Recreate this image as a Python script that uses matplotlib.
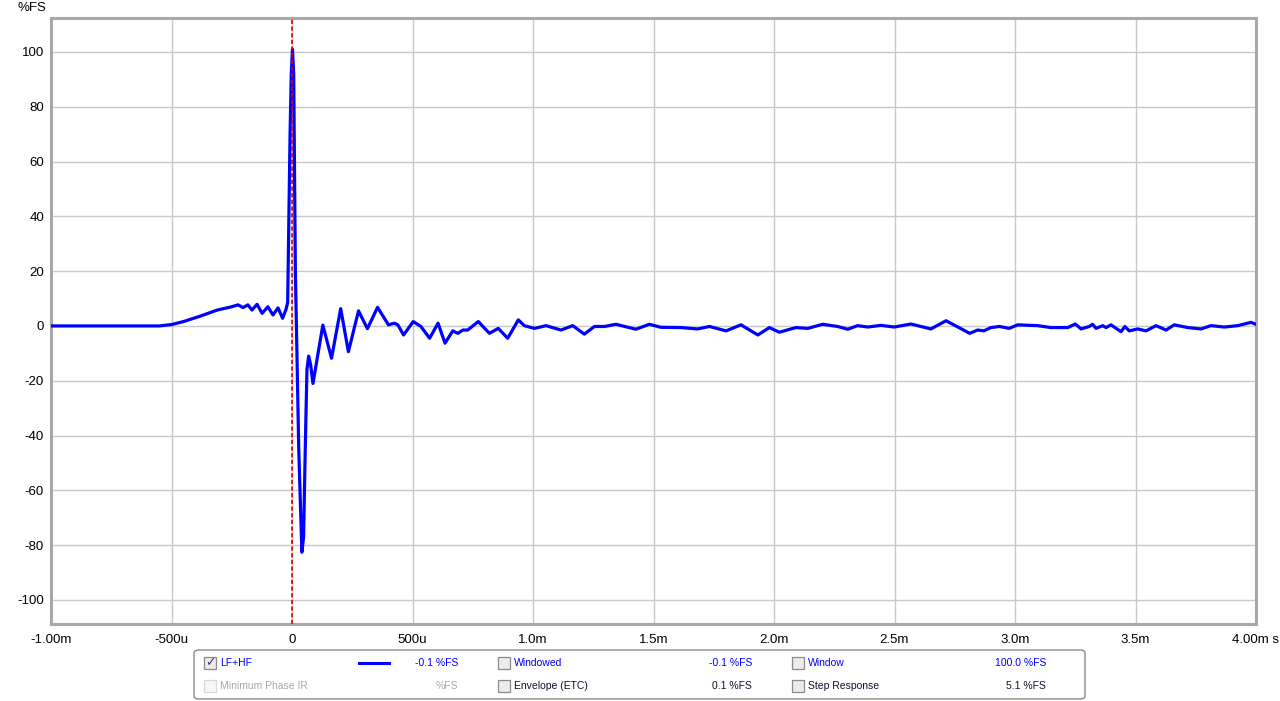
import matplotlib
matplotlib.use("Agg")
import matplotlib.pyplot as plt
from matplotlib.patches import FancyBboxPatch, Rectangle

plt.rcParams['font.family'] = ['Liberation Sans', 'DejaVu Sans']
plt.rcParams['axes.unicode_minus'] = False

# impulse response LF+HF, time in ms, level in %FS
t_ms = [-1.0, -0.75, -0.55, -0.50, -0.45, -0.38, -0.31, -0.25, -0.224, -0.203,
        -0.183, -0.166, -0.145, -0.124, -0.100, -0.079, -0.058, -0.039, -0.025,
        -0.018, -0.008, -0.003, 0.002, 0.007, 0.014, 0.028, 0.041, 0.048, 0.055,
        0.062, 0.069, 0.077, 0.087, 0.128, 0.164, 0.202, 0.234, 0.276, 0.313,
        0.355, 0.400, 0.425, 0.439, 0.463, 0.503, 0.535, 0.571, 0.606, 0.635,
        0.667, 0.688, 0.709, 0.729, 0.773, 0.819, 0.856, 0.895, 0.939, 0.964,
        1.006, 1.054, 1.116, 1.165, 1.213, 1.255, 1.297, 1.344, 1.427, 1.483,
        1.531, 1.614, 1.683, 1.732, 1.801, 1.863, 1.933, 1.981, 2.022, 2.091,
        2.140, 2.202, 2.264, 2.306, 2.347, 2.389, 2.444, 2.499, 2.568, 2.651,
        2.714, 2.812, 2.845, 2.871, 2.900, 2.935, 2.976, 3.011, 3.094, 3.149,
        3.219, 3.250, 3.274, 3.308, 3.322, 3.336, 3.364, 3.378, 3.398, 3.440,
        3.456, 3.474, 3.509, 3.544, 3.585, 3.627, 3.661, 3.717, 3.772, 3.813,
        3.869, 3.924, 3.979, 4.0]
level = [0.0, 0.0, 0.0, 0.5, 1.6, 3.6, 5.8, 7.0, 7.7, 6.7,
         7.7, 5.8, 7.9, 4.6, 7.0, 4.0, 6.6, 2.8, 6.0,
         8.5, 70.0, 92.0, 101.0, 92.0, 20.0, -45.0, -82.6, -77.0, -45.0,
         -16.0, -11.0, -14.0, -21.0, 0.3, -11.8, 6.3, -9.4, 5.5, -1.0,
         6.8, 0.4, 1.0, 0.4, -3.3, 1.6, -0.2, -4.5, 1.0, -6.3,
         -1.8, -2.7, -1.5, -1.5, 1.6, -2.7, -0.9, -4.5, 2.2, 0.1,
         -0.9, 0.1, -1.5, 0.1, -3.0, -0.2, -0.2, 0.6, -1.2, 0.6,
         -0.5, -0.6, -1.1, -0.2, -1.8, 0.4, -3.3, -0.6, -2.3, -0.6,
         -0.9, 0.6, -0.2, -1.2, 0.1, -0.4, 0.2, -0.4, 0.7, -1.1,
         1.9, -2.7, -1.5, -1.8, -0.6, -0.2, -0.9, 0.4, 0.1, -0.6,
         -0.6, 0.7, -1.1, -0.2, 0.6, -0.9, 0.1, -0.6, 0.4, -2.1,
         -0.2, -1.8, -1.1, -1.8, 0.1, -1.5, 0.4, -0.6, -1.1, 0.1,
         -0.4, 0.1, 1.3, 0.6]

x_ticks = [-1.0, -0.5, 0.0, 0.5, 1.0, 1.5, 2.0, 2.5, 3.0, 3.5, 4.0]
x_labels = ['-1.00m', '-500u', '0', '500u', '1.0m', '1.5m', '2.0m', '2.5m',
            '3.0m', '3.5m', '4.00m s']
y_ticks = [-100, -80, -60, -40, -20, 0, 20, 40, 60, 80, 100]

W, H = 1280, 701
fig = plt.figure(figsize=(W / 100, H / 100), dpi=100)
ax = fig.add_axes([51 / W, 77 / H, 1205 / W, 606 / H])

ax.plot(t_ms, level, color='#0000ff', lw=2.3, solid_joinstyle='round',
        solid_capstyle='round', zorder=3)
ax.axvline(0, color='#dd0000', lw=1.2, ls=(0, (2.5, 1.5)), zorder=4)

ax.set_xlim(-1.0, 4.0)
ax.set_ylim(-108.8, 112.4)
ax.set_xticks(x_ticks)
ax.set_xticklabels(x_labels)
ax.set_yticks(y_ticks)
ax.grid(True, color='#c8c8c8', lw=1.0)
ax.set_axisbelow(True)
ax.tick_params(length=0, labelsize=9.5)
ax.tick_params(axis='y', pad=5)
ax.tick_params(axis='x', pad=7)
for s in ax.spines.values():
    s.set_color('#a8a8a8')
    s.set_linewidth(2.2)

fig.text(17 / W, 1 - 8 / H, '%FS', fontsize=9.5, va='center', ha='left')


def fx(x):
    return x / W


def fy(y):
    return 1 - y / H


# legend panel
fig.patches.append(FancyBboxPatch((fx(194), fy(699)), (1085 - 194) / W, 49 / H,
                                  boxstyle='round,pad=0,rounding_size=0.004',
                                  transform=fig.transFigure, fc='white',
                                  ec='#8a8a8a', lw=1.0))


def checkbox(x, y, checked=False, faded=False):
    ec = '#d8d8d8' if faded else '#8c8c8c'
    fc = '#f6f6f6' if faded else '#ececec'
    fig.patches.append(Rectangle((fx(x), fy(y + 6)), 12 / W, 12 / H,
                                 transform=fig.transFigure, fc=fc, ec=ec, lw=0.9))
    if checked:
        fig.text(fx(x + 6), fy(y), '\u2713', fontsize=9, ha='center', va='center',
                 color='#3a3a7a', family='DejaVu Sans')


blue = '#0000ff'
rows = [
    (663, [(204, 'LF+HF', '-0.1 %FS', 458, blue, True, False),
           (498, 'Windowed', '-0.1 %FS', 752, blue, False, False),
           (792, 'Window', '100.0 %FS', 1046, blue, False, False)]),
    (686, [(204, 'Minimum Phase IR', '%FS', 458, '#a8a8a8', False, True),
           (498, 'Envelope (ETC)', '0.1 %FS', 752, '#101030', False, False),
           (792, 'Step Response', '5.1 %FS', 1046, '#101030', False, False)]),
]
for y, items in rows:
    for x, name, val, xr, col, chk, faded in items:
        checkbox(x, y, chk, faded)
        fig.text(fx(x + 16), fy(y), name, fontsize=7.5, color=col, va='center', ha='left')
        fig.text(fx(xr), fy(y), val, fontsize=7.5, color=col, va='center', ha='right')

fig.add_artist(plt.Line2D([fx(359), fx(389)], [fy(663), fy(663)], color=blue, lw=2.2,
                          transform=fig.transFigure))

fig.savefig('out.png', dpi=100, facecolor='white')
